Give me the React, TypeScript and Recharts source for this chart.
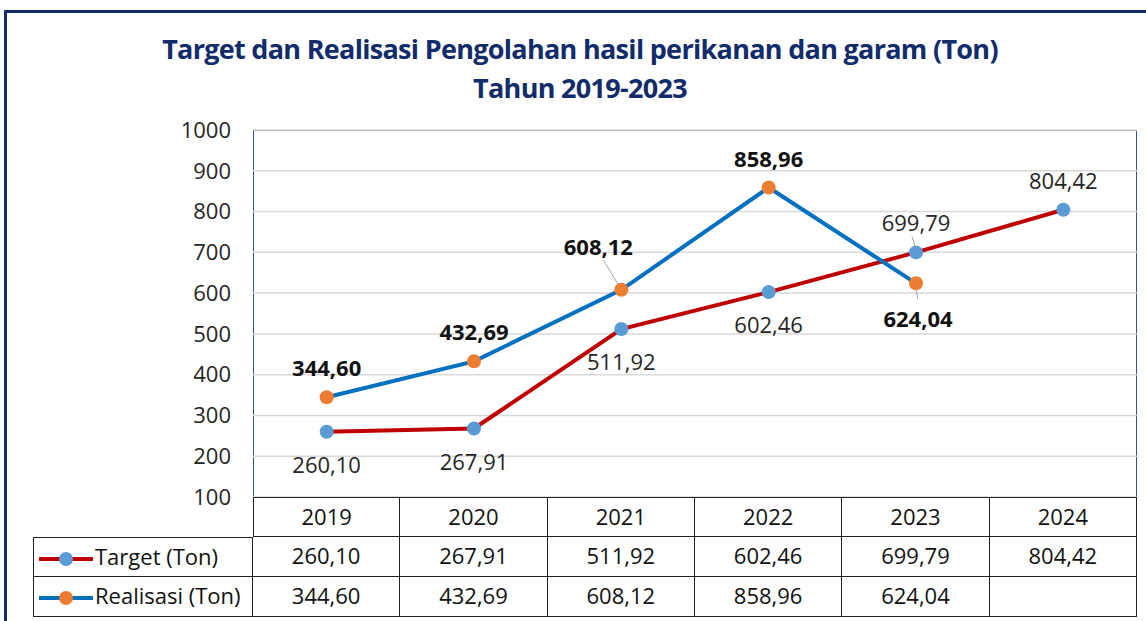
import React from "react";
import { LineChart, Line, XAxis, YAxis, CartesianGrid, LabelList } from "recharts";

const years = ["2019", "2020", "2021", "2022", "2023", "2024"];
const targetTon = [260.1, 267.91, 511.92, 602.46, 699.79, 804.42];
const realisasiTon: (number | null)[] = [344.6, 432.69, 608.12, 858.96, 624.04, null];
const yTicks = [100, 200, 300, 400, 500, 600, 700, 800, 900, 1000];

// where each data label sits relative to its point
const targetLabelPos = ["below", "below", "below", "below", "aboveLeader", "above"];
const realisasiLabelPos = ["above", "above", "aboveLeftLeader", "above", "belowLeader", "above"];

const data = years.map((year, i) => ({
  year,
  target: targetTon[i],
  realisasi: realisasiTon[i],
}));

const W = 1146;
const H = 621;
const PLOT_L = 253;
const PLOT_R = 1137;
const PLOT_T = 130;
const PLOT_B = 497;
const COL_W = (PLOT_R - PLOT_L) / years.length;
const ROW_H = 40;

const FONT = "'Open Sans', 'Noto Sans', sans-serif";
const NAVY = "#112B6B";
const RED = "#C00000";
const BLUE_LINE = "#0070C0";
const BLUE_DOT = "#5B9BD5";
const ORANGE = "#ED7D31";

const fmt = (v: number | null | undefined) =>
  v == null ? "" : v.toFixed(2).replace(".", ",");

const makeLabel = (positions: string[], bold: boolean) => (props: any) => {
  const { x, y, value, index } = props;
  if (value == null) return null;
  const pos = positions[index];
  let lx = x;
  let ly = y;
  let leader: number[] | null = null;
  if (pos === "above") ly = y - 30;
  if (pos === "below") ly = y + 32;
  if (pos === "aboveLeader") {
    ly = y - 30;
    leader = [x - 1, y - 6, x - 4, y - 16];
  }
  if (pos === "aboveLeftLeader") {
    lx = x - 23;
    ly = y - 44;
    leader = [x - 3, y - 5, x - 18, y - 30];
  }
  if (pos === "belowLeader") {
    lx = x + 2;
    ly = y + 35;
    leader = [x, y + 6, x + 2, y + 16];
  }
  return (
    <g>
      {leader && (
        <line x1={leader[0]} y1={leader[1]} x2={leader[2]} y2={leader[3]} stroke="#A6A6A6" strokeWidth={1} />
      )}
      <text
        x={lx}
        y={ly}
        textAnchor="middle"
        dominantBaseline="central"
        fontFamily={FONT}
        fontSize={22}
        fontWeight={bold ? 700 : 400}
        fill={bold ? "#111" : "#262626"}
      >
        {fmt(value)}
      </text>
    </g>
  );
};

const LegendKey = ({ line, dot }: { line: string; dot: string }) => (
  <svg width={54} height={18} style={{ verticalAlign: "middle", marginRight: 2 }}>
    <line x1={1} y1={9} x2={53} y2={9} stroke={line} strokeWidth={4} strokeLinecap="round" />
    <circle cx={27} cy={9} r={7} fill={dot} />
  </svg>
);

const cell = (extra: React.CSSProperties = {}): React.CSSProperties => ({
  position: "absolute",
  height: ROW_H,
  lineHeight: `${ROW_H - 4}px`,
  boxSizing: "border-box",
  textAlign: "center",
  fontFamily: FONT,
  fontSize: 22,
  color: "#111",
  borderRight: "1px solid #222",
  borderBottom: "1px solid #222",
  whiteSpace: "nowrap",
  ...extra,
});

const DataTable = () => {
  const rows = [
    { name: "Target (Ton)", values: targetTon, line: RED, dot: BLUE_DOT },
    { name: "Realisasi (Ton)", values: realisasiTon, line: BLUE_LINE, dot: ORANGE },
  ];
  const legendL = 33;
  return (
    <>
      {years.map((y, i) => (
        <div
          key={y}
          style={cell({
            left: PLOT_L + i * COL_W,
            top: PLOT_B,
            width: COL_W,
            borderTop: "1px solid #222",
            borderLeft: i === 0 ? "1px solid #222" : undefined,
          })}
        >
          {y}
        </div>
      ))}
      {rows.map((r, ri) => (
        <React.Fragment key={r.name}>
          <div
            style={cell({
              left: legendL,
              top: PLOT_B + ROW_H * (ri + 1),
              width: PLOT_L - legendL,
              borderLeft: "1px solid #222",
              borderTop: ri === 0 ? "1px solid #222" : undefined,
              textAlign: "left",
              paddingLeft: 5,
            })}
          >
            <LegendKey line={r.line} dot={r.dot} />
            {r.name}
          </div>
          {r.values.map((v, i) => (
            <div
              key={i}
              style={cell({
                left: PLOT_L + i * COL_W,
                top: PLOT_B + ROW_H * (ri + 1),
                width: COL_W,
              })}
            >
              {fmt(v)}
            </div>
          ))}
        </React.Fragment>
      ))}
    </>
  );
};

export default function App() {
  return (
    <div style={{ position: "absolute", left: 0, top: 0, width: W, height: H, background: "#fff", overflow: "hidden" }}>
      <div
        style={{
          position: "absolute",
          left: 4,
          top: 10,
          width: W + 40,
          height: H + 40,
          borderTop: `3px solid ${NAVY}`,
          borderLeft: `3px solid ${NAVY}`,
        }}
      />
      <div
        style={{
          position: "absolute",
          left: 0,
          width: 1160,
          top: 29,
          textAlign: "center",
          fontFamily: FONT,
          fontWeight: 700,
          fontSize: 27,
          letterSpacing: -0.7,
          color: NAVY,
          lineHeight: "39px",
        }}
      >
        <div>Target dan Realisasi Pengolahan hasil perikanan dan garam (Ton)</div>
        <div>Tahun 2019-2023</div>
      </div>
      <div
        style={{
          position: "absolute",
          left: PLOT_L,
          top: PLOT_T,
          width: PLOT_R - PLOT_L,
          height: PLOT_B - PLOT_T,
          boxSizing: "border-box",
          borderTop: "1px solid #2F5597",
          borderLeft: "1px solid #2F5597",
          borderRight: "1px solid #2F5597",
        }}
      />
      <div style={{ position: "absolute", left: 0, top: 0 }}>
        <LineChart
          width={W}
          height={H}
          data={data}
          margin={{ top: PLOT_T, right: W - PLOT_R, bottom: H - PLOT_B, left: 0 }}
        >
          <CartesianGrid vertical={false} stroke="#D9D9D9" strokeWidth={1.5} />
          <XAxis dataKey="year" hide scale="band" />
          <YAxis
            width={PLOT_L}
            domain={[100, 1000]}
            ticks={yTicks}
            axisLine={false}
            tickLine={false}
            tickSize={0}
            tickMargin={22}
            tick={{ fontFamily: FONT, fontSize: 22, fill: "#262626" }}
          />
          <Line
            dataKey="target"
            stroke={RED}
            strokeWidth={4}
            dot={{ r: 7, fill: BLUE_DOT, stroke: "none" }}
            activeDot={false}
            isAnimationActive={false}
          >
            <LabelList dataKey="target" content={makeLabel(targetLabelPos, false)} />
          </Line>
          <Line
            dataKey="realisasi"
            stroke={BLUE_LINE}
            strokeWidth={4}
            dot={{ r: 7, fill: ORANGE, stroke: "none" }}
            activeDot={false}
            isAnimationActive={false}
          >
            <LabelList dataKey="realisasi" content={makeLabel(realisasiLabelPos, true)} />
          </Line>
        </LineChart>
      </div>
      <DataTable />
    </div>
  );
}
